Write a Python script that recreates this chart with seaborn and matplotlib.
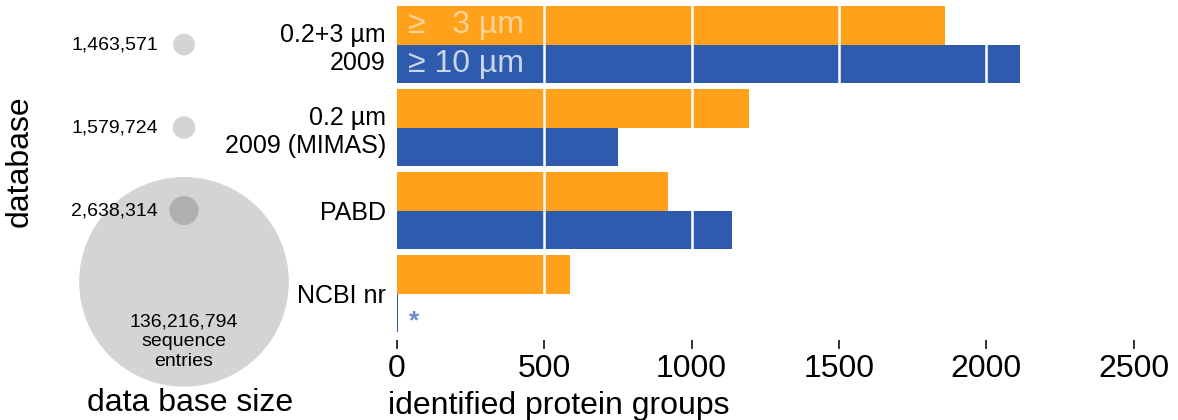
import numpy as np
import pandas as pd
import matplotlib
matplotlib.use("Agg")
import matplotlib.pyplot as plt
import seaborn as sns

# ---------------- data ----------------
databases = ["0.2+3 µm\n2009", "0.2 µm\n2009 (MIMAS)", "PABD", "NCBI nr"]
groups_3um = [1860, 1196, 919, 588]
groups_10um = [2115, 749, 1136, 5]
fractions = ["≥   3 µm", "≥ 10 µm"]
db_size = [1463571, 1579724, 2638314, 136216794]
db_size_labels = ["1,463,571", "1,579,724", "2,638,314", "136,216,794\nsequence\nentries"]
x_ticks = [0, 500, 1000, 1500, 2000, 2500]

sns.set_theme(style="white")
plt.rcParams["font.family"] = ["Liberation Sans", "DejaVu Sans"]
for k in ["text.color", "axes.labelcolor", "xtick.color", "ytick.color"]:
    plt.rcParams[k] = "black"
plt.rcParams["xtick.bottom"] = True
plt.rcParams["xtick.major.size"] = 6
plt.rcParams["xtick.major.width"] = 1.2
plt.rcParams["axes.axisbelow"] = False

ORANGE = "#FFA11A"
BLUE = "#2E5BAE"

df = pd.DataFrame({
    "database": databases * 2,
    "count": groups_3um + groups_10um,
    "fraction": [fractions[0]] * 4 + [fractions[1]] * 4,
})

fig = plt.figure(figsize=(11.78, 4.2), dpi=100)
W, H = 1178, 420
ax = fig.add_axes([397 / W, 1 - 340 / H, 766 / W, 337 / H])
axl = fig.add_axes([0, 1 - 340 / H, 368 / W, 337 / H])

sns.barplot(data=df, y="database", x="count", hue="fraction", orient="h",
            palette=[ORANGE, BLUE], width=0.93, dodge=True, saturation=1,
            linewidth=0, legend=False, ax=ax)

ax.set_xlim(0, 2600)
ax.set_ylim(3.56, -0.5)
for v in x_ticks[1:-1]:
    ax.axvline(v, color="white", lw=1.8, zorder=5)
for s in ax.spines.values():
    s.set_visible(False)
ax.set_xticks(x_ticks)
ax.set_xticklabels([str(t) for t in x_ticks])
ax.tick_params(axis="x", bottom=True, direction="out", length=6, width=1.2,
               color="#333333", pad=4, labelsize=23, labelcolor="black")
ax.tick_params(axis="y", left=False, pad=2, labelsize=18, labelcolor="black")
# explicit short tick marks under the axis (same positions as the ticks)
ax.vlines(x_ticks, -0.026, 0.0, transform=ax.get_xaxis_transform(),
          colors="#333333", linewidth=1.3, clip_on=False, zorder=6)
for lab in ax.get_yticklabels():
    lab.set_horizontalalignment("right")
ax.set_ylabel("")
ax.set_xlabel("identified protein groups", fontsize=23, color="black")
ax.xaxis.set_label_coords(-0.012, -0.15)
ax.xaxis.label.set_horizontalalignment("left")

# labels inside bars
ax.text(37, -0.2325, fractions[0], color="white", alpha=0.55, fontsize=23,
        va="center", ha="left", zorder=6)
ax.text(37, 0.2325, fractions[1], color="white", alpha=0.75, fontsize=23,
        va="center", ha="left", zorder=6)
ax.text(42, 3.34, "*", color="#6b8cd0", fontsize=19, va="center", ha="left",
        zorder=6, fontweight="bold")

# --------- left panel: database size circles ---------
ypos = [0, 1, 2, 2.86]
sns.scatterplot(x=[0] * 4, y=ypos, size=db_size,
                sizes=(245, 245 * db_size[3] / db_size[0]),
                size_norm=(db_size[0], db_size[3]),
                color="black", alpha=0.17, linewidth=0, legend=False, ax=axl)
for coll in axl.collections:
    coll.set_clip_on(False)
axl.set_xlim(-184, 184)
axl.set_ylim(3.56, -0.5)
axl.axis("off")
for i in range(3):
    axl.text(-26, ypos[i], db_size_labels[i], ha="right", va="center", fontsize=14)
axl.text(0, 3.58, db_size_labels[3], ha="center", va="center", fontsize=14,
         linespacing=1.2)
fig.text(190 / W, 1 - 403 / H, "data base size", ha="center", va="center", fontsize=23)
fig.text(20 / W, 1 - 161 / H, "database", ha="center", va="center", rotation=90,
         fontsize=23)

fig.savefig("out.png", dpi=100)
